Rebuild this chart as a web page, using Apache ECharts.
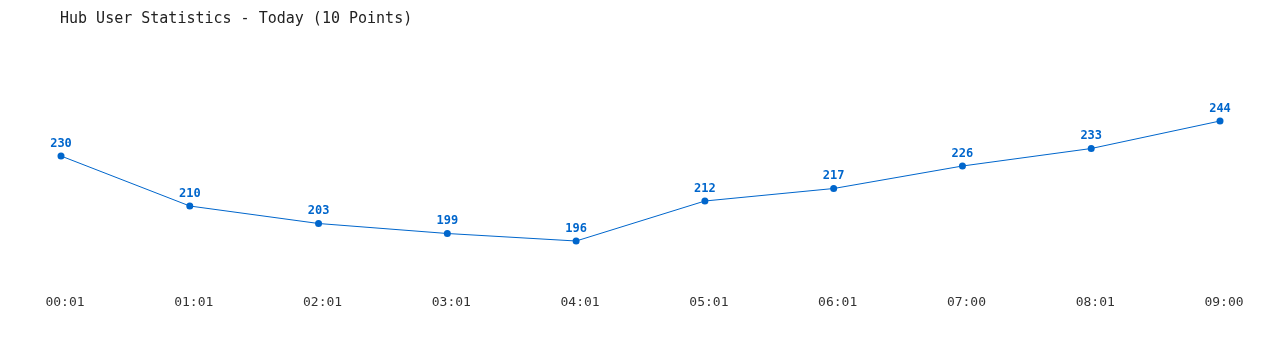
<!DOCTYPE html>
<html>
<head>
<meta charset="utf-8">
<script src="https://cdn.jsdelivr.net/npm/echarts@6/dist/echarts.min.js"></script>
<style>
html,body{margin:0;padding:0;background:#fff;}
#chart{width:1280px;height:350px;}
</style>
</head>
<body>
<div id="chart"></div>
<script>
const titleText = 'Hub User Statistics - Today (10 Points)';
const categories = ['00:01','01:01','02:01','03:01','04:01','05:01','06:01','07:00','08:01','09:00'];
const users = [230, 210, 203, 199, 196, 212, 217, 226, 233, 244];

const chart = echarts.init(document.getElementById('chart'));
chart.setOption({
  backgroundColor: '#ffffff',
  animation: false,
  title: {
    text: titleText,
    left: 55,
    top: 7,
    textStyle: { fontFamily: 'DejaVu Sans Mono', fontSize: 15, fontWeight: 'normal', color: '#222' }
  },
  grid: { left: 61, right: 60, top: 81, bottom: 69 },
  xAxis: {
    type: 'category',
    data: categories,
    boundaryGap: false,
    axisLine: { show: false },
    axisTick: { show: false },
    splitLine: { show: false },
    axisLabel: { margin: 15, padding: [0, 0, 0, 8], fontFamily: 'DejaVu Sans Mono', fontSize: 13, color: '#333' }
  },
  yAxis: {
    type: 'value',
    min: 180,
    max: 260,
    show: false,
    splitLine: { show: false }
  },
  series: [{
    type: 'line',
    data: users,
    symbol: 'circle',
    symbolSize: 7,
    lineStyle: { color: '#0066cc', width: 1 },
    itemStyle: { color: '#0066cc' },
    label: {
      show: true,
      position: 'top',
      distance: 3,
      fontFamily: 'DejaVu Sans Mono',
      fontSize: 12,
      fontWeight: 'bold',
      color: '#0066cc'
    }
  }]
});
</script>
</body>
</html>
